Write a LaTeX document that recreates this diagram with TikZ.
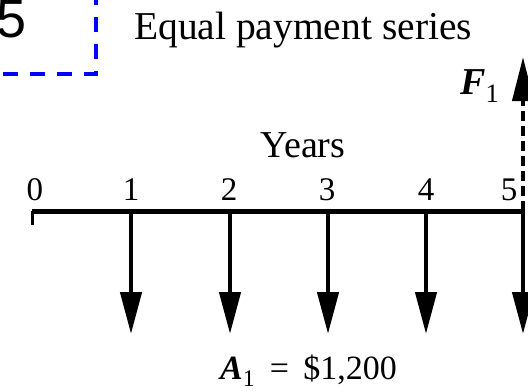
\documentclass[tikz,border=0pt]{standalone}
\usepackage{fontspec}
\setmainfont{Liberation Serif}
\newfontfamily\sansdigit{Liberation Sans}
\usetikzlibrary{arrows.meta}

\begin{document}
\begin{tikzpicture}[x=1pt, y=-1pt,
    lbl/.style={inner sep=0pt, anchor=base, font=\fontsize{33}{33}\selectfont},
    axis/.style={line width=5pt},
    payment/.style={line width=4.5pt, -{Triangle[length=42pt, width=21pt]}},
    future/.style={line width=4pt, dash pattern=on 10pt off 5pt,
                   -{Triangle[length=44pt, width=21pt]}},
    framebox/.style={draw=blue, line width=4pt, dash pattern=on 15pt off 12pt}
]
\path[use as bounding box, clip] (0,0) rectangle (528,391);

\coordinate (t0) at (32,211);
\coordinate (t1) at (131,211);
\coordinate (t2) at (230,211);
\coordinate (t3) at (328,211);
\coordinate (t4) at (426,211);
\coordinate (t5) at (523,211);
\coordinate (s0) at (32,225);
\coordinate (p1) at (131,334);
\coordinate (p2) at (230,334);
\coordinate (p3) at (328,334);
\coordinate (p4) at (426,334);
\coordinate (p5) at (523,334);
\coordinate (f5) at (523,57);

\node[lbl, anchor=base east, font=\sansdigit\fontsize{54}{54}\selectfont] (num) at (27,37) {5};
\draw[framebox] (96,-10) -- (96,74) -- (-10,74);

\node[lbl, anchor=base west, font=\fontsize{39.5}{40}\selectfont] (title) at (134,39) {Equal payment series};
\node[lbl, font=\fontsize{38}{38}\selectfont] (years) at (303,157) {Years};

\node[lbl] (y0) at (35,200)  {0};
\node[lbl] (y1) at (131,200) {1};
\node[lbl] (y2) at (229,200) {2};
\node[lbl] (y3) at (327,200) {3};
\node[lbl] (y4) at (426,200) {4};
\node[lbl] (y5) at (509,200) {5};

\draw[axis] (t0) -- (t5);
\draw[line width=3pt] (t0) -- (s0);

\draw[payment] (t1) -- (p1);
\draw[payment] (t2) -- (p2);
\draw[payment] (t3) -- (p3);
\draw[payment] (t4) -- (p4);
\draw[payment] (t5) -- (p5);
\draw[future] (t5) -- (f5);

\node[lbl, anchor=base west, font=\fontsize{38}{38}\selectfont] (fone) at (460,94)
    {\textbf{\textit{F}}\textsubscript{1}};
\node[lbl, anchor=base west, font=\fontsize{34}{34}\selectfont] (aone) at (220,379)
    {\textbf{\textit{A}}\textsubscript{1}\hspace{6pt} = \hspace{6pt}\$1,200};

\end{tikzpicture}
\end{document}
